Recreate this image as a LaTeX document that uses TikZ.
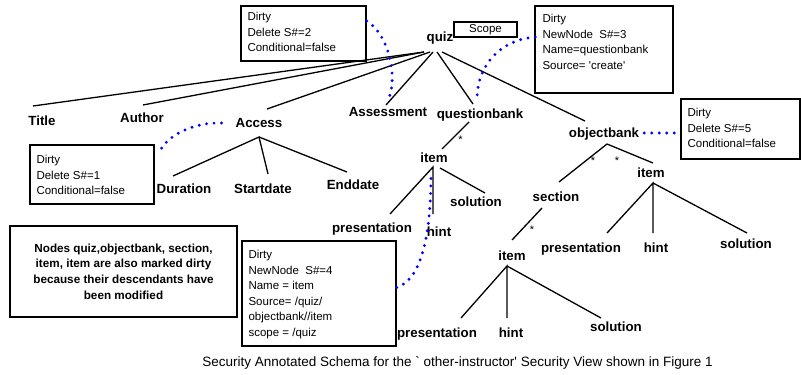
\documentclass[tikz,border=0pt]{standalone}
\usepackage{fontspec}
\setmainfont{Liberation Sans}
\begin{document}
\begin{tikzpicture}[x=1pt,y=-1pt,
  lbl/.style={font=\fontsize{13.3}{15}\selectfont\bfseries, inner sep=0pt, text height=9.5pt, text depth=0pt},
  tl/.style={line width=1.3pt},
  dots/.style={draw=blue, line width=3.2pt, dash pattern=on 0pt off 7.5pt, line cap=round},
  boxr/.style={draw, line width=1.3pt, inner sep=0pt},
  btxt/.style={font=\fontsize{11.5}{15.5}\selectfont, align=left, anchor=north west, inner sep=0pt},
  star/.style={font=\fontsize{11}{11}\selectfont, inner sep=0pt}]
\useasboundingbox (0,0) rectangle (801,375);

% ---------- labels ----------
\node[lbl] (quiz) at (440,37) {quiz};
\node[lbl] (title) at (42,121) {Title};
\node[lbl] (author) at (142,118) {Author};
\node[lbl] (access) at (259,123) {Access};
\node[lbl] (assess) at (388,112) {Assessment};
\node[lbl] (qb) at (480,114) {questionbank};
\node[lbl] (ob) at (604,133) {objectbank};
\node[lbl] (duration) at (184,189) {Duration};
\node[lbl] (startdate) at (263,189) {Startdate};
\node[lbl] (enddate) at (353,185) {Enddate};
\node[lbl] (iq) at (434,158) {item};
\node[lbl] (pq) at (372,228) {presentation};
\node[lbl] (hq) at (439,232) {hint};
\node[lbl] (sq) at (476,202) {solution};
\node[lbl] (section) at (556,197) {section};
\node[lbl] (io) at (651,173) {item};
\node[lbl] (po) at (581,248) {presentation};
\node[lbl] (ho) at (656,248) {hint};
\node[lbl] (so) at (746,244) {solution};
\node[lbl] (is) at (512,256) {item};
\node[lbl] (ps) at (437,333) {presentation};
\node[lbl] (hs) at (511,333) {hint};
\node[lbl] (ss) at (616,327) {solution};

% ---------- boxes ----------
\node[boxr, minimum width=63pt, minimum height=15pt, font=\fontsize{11.5}{13}\selectfont] (scope) at (485.5,29.5) {Scope};
\node[boxr, minimum width=125pt, minimum height=55pt] (b2) at (303.5,33.5) {};
\node[boxr, minimum width=138pt, minimum height=87pt] (b3) at (604,49.5) {};
\node[boxr, minimum width=119pt, minimum height=60pt] (b5) at (740.5,129) {};
\node[boxr, minimum width=124pt, minimum height=59pt] (b1) at (92,174.5) {};
\node[boxr, minimum width=154pt, minimum height=105pt] (b4) at (319,293.5) {};
\node[boxr, minimum width=227pt, minimum height=91pt, align=center,
      font=\fontsize{11.7}{15.6}\selectfont\bfseries] (msg) at (123.5,271.5)
  {Nodes quiz,objectbank, section,\\item, item are also marked dirty\\because their descendants have\\been modified};

\node[btxt] (t2) at ([xshift=7pt,yshift=-4.25pt]b2.north west)
  {\strut Dirty\\Delete S\#=2\\Conditional=false};
\node[btxt] (t3) at ([xshift=8pt,yshift=-6.25pt]b3.north west)
  {\strut Dirty\\NewNode~~S\#=3\\Name=questionbank\\Source= \textquotesingle create\textquotesingle};
\node[btxt] (t5) at ([xshift=7pt,yshift=-7.25pt]b5.north west)
  {\strut Dirty\\Delete S\#=5\\Conditional=false};
\node[btxt] (t1) at ([xshift=7pt,yshift=-8.25pt]b1.north west)
  {\strut Dirty\\Delete S\#=1\\Conditional=false};
\node[btxt] (t4) at ([xshift=7pt,yshift=-7.25pt]b4.north west)
  {\strut Dirty\\NewNode~~S\#=4\\Name = item\\Source= /quiz/\\objectbank//item\\scope = /quiz};

% ---------- tree connectors ----------
\coordinate (qz1) at (424,52);
\coordinate (qz2) at (430,52);
\coordinate (qz3) at (433,52);
\coordinate (qz4) at (437,52);
\coordinate (qz5) at (442,52);
\coordinate (eTitle) at (33,106);
\coordinate (eAuthor) at (143,105);
\coordinate (eAccess) at (267,109);
\coordinate (eAssess) at (386,105);
\coordinate (eQb) at (473,104);
\coordinate (eOb) at (585,121);
\draw[tl] (eTitle) -- (qz1);
\draw[tl] (eAuthor) -- (qz1);
\draw[tl] (eAccess) -- (qz2);
\draw[tl] (eAssess) -- (qz3);
\draw[tl] (eQb) -- (qz4);
\draw[tl] (eOb) -- (qz5);

\coordinate (acA) at (259,137);
\coordinate (eDur) at (173,176);
\coordinate (eStart) at (268,174);
\coordinate (eEnd) at (347,172);
\draw[tl] (eDur) -- (acA) -- (eStart);
\draw[tl] (acA) -- (eEnd);

\coordinate (qbA) at (469,122);
\coordinate (iqT) at (442,149);
\draw[tl] (qbA) -- (iqT);
\node[star] (s1) at (460.5,140) {*};

\coordinate (iqA) at (433,167);
\coordinate (iqB) at (440,168);
\coordinate (ePq) at (390,214);
\coordinate (eHq) at (433,214);
\coordinate (eSq) at (485,193);
\draw[tl] (ePq) -- (iqA) -- (eHq);
\draw[tl] (iqB) -- (eSq);

\coordinate (obA) at (607,144);
\coordinate (eSec) at (559,182);
\coordinate (eIo) at (653,163);
\draw[tl] (eSec) -- (obA) -- (eIo);
\node[star] (s2) at (593,160.5) {*};
\node[star] (s3) at (617,160.5) {*};

\coordinate (ioA) at (653,183);
\coordinate (ePo) at (607,233);
\coordinate (eHo) at (653,233);
\coordinate (eSo) at (747,233);
\draw[tl] (ePo) -- (ioA) -- (eHo);
\draw[tl] (ioA) -- (eSo);

\coordinate (secA) at (542,208);
\coordinate (isT) at (512,240);
\draw[tl] (secA) -- (isT);
\node[star] (s4) at (532,230) {*};

\coordinate (isA) at (507,266);
\coordinate (ePs) at (461,318);
\coordinate (eHs) at (507,318);
\coordinate (eSs) at (601,318);
\draw[tl] (ePs) -- (isA) -- (eHs);
\draw[tl] (isA) -- (eSs);

% ---------- dotted annotation links ----------
\draw[dots] ([yshift=12.5pt]b2.east) .. controls (390,35) and (398,80) .. ([yshift=7pt]assess.north);
\draw[dots] ([xshift=-14pt]access.west) .. controls (195,122) and (165,135) .. ([xshift=4pt,yshift=-10pt]b1.north east);
\draw[dots] ([xshift=1pt,yshift=12.5pt]b3.west) .. controls (500,40) and (477,65) .. ([xshift=-3pt,yshift=9pt]qb.north);
\draw[dots] ([xshift=5pt]ob.east) -- (ob.east -| b5.west);
\draw[dots] ([yshift=6pt]b4.east) .. controls (420,280) and (431,240) .. ([xshift=-3pt,yshift=-10pt]iq.south);

% ---------- caption ----------
\node[font=\fontsize{13.5}{15}\selectfont, inner sep=0pt] (cap) at (457.5,363)
  {Security Annotated Schema for the \textasciigrave{} other-instructor\textquotesingle{} Security View shown in Figure 1};
\end{tikzpicture}
\end{document}
